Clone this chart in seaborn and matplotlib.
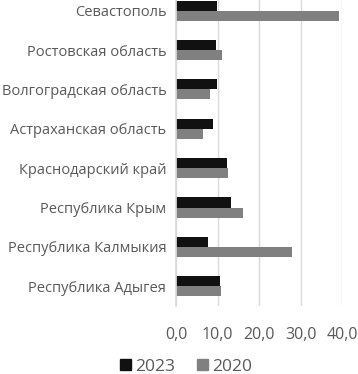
import seaborn as sns
from matplotlib import pyplot as plt
from matplotlib.patches import Patch
import matplotlib.ticker as ticker
import pandas as pd

sns.set_theme(style='white')
plt.rcParams['font.family'] = ['Open Sans', 'DejaVu Sans']

regions = ['Севастополь', 'Ростовская область', 'Волгоградская область',
           'Астраханская область', 'Краснодарский край', 'Республика Крым',
           'Республика Калмыкия', 'Республика Адыгея']
vals_2023 = [9.9, 9.6, 9.8, 9.0, 12.3, 13.3, 7.6, 10.6]
vals_2020 = [39.3, 11.0, 8.3, 6.4, 12.6, 16.2, 27.8, 10.8]
years = ['2023', '2020']
colors = ['#111111', '#808080']
text_color = '#595959'

df = pd.DataFrame({
    'region': regions * 2,
    'value': vals_2023 + vals_2020,
    'year': [years[0]] * len(regions) + [years[1]] * len(regions),
})

fig = plt.figure(figsize=(3.58, 3.74), dpi=100)
ax = fig.add_axes([0.4916, 0.182, 0.4645, 0.842])

sns.barplot(data=df, y='region', x='value', hue='year', hue_order=years,
            palette=colors, order=regions, orient='h', width=0.51,
            saturation=1, linewidth=0, ax=ax, legend=False)

ax.set_xlim(0, 40)
ax.xaxis.set_major_locator(ticker.MultipleLocator(10))
ax.xaxis.set_major_formatter(ticker.FuncFormatter(lambda v, p: f'{v:.1f}'.replace('.', ',')))
ax.grid(axis='x', color='#d9d9d9', linewidth=1)
ax.set_axisbelow(True)
for s in ['top', 'right', 'bottom']:
    ax.spines[s].set_visible(False)
ax.spines['left'].set_color('#d9d9d9')
ax.tick_params(axis='x', length=0, pad=15, labelsize=11.5, labelcolor=text_color)
ax.tick_params(axis='y', length=0, pad=7, labelsize=10.5, labelcolor=text_color)
ax.set_xlabel('')
ax.set_ylabel('')

handles = [Patch(color=c, label=y) for c, y in zip(colors, years)]
fig.legend(handles=handles, loc='center', bbox_to_anchor=(0.52, 0.02), ncol=2,
           frameon=False, fontsize=12.5, labelcolor=text_color,
           handlelength=0.6, handleheight=0.6, handletextpad=0.25, columnspacing=1.3)

plt.savefig('out.png', dpi=100)
